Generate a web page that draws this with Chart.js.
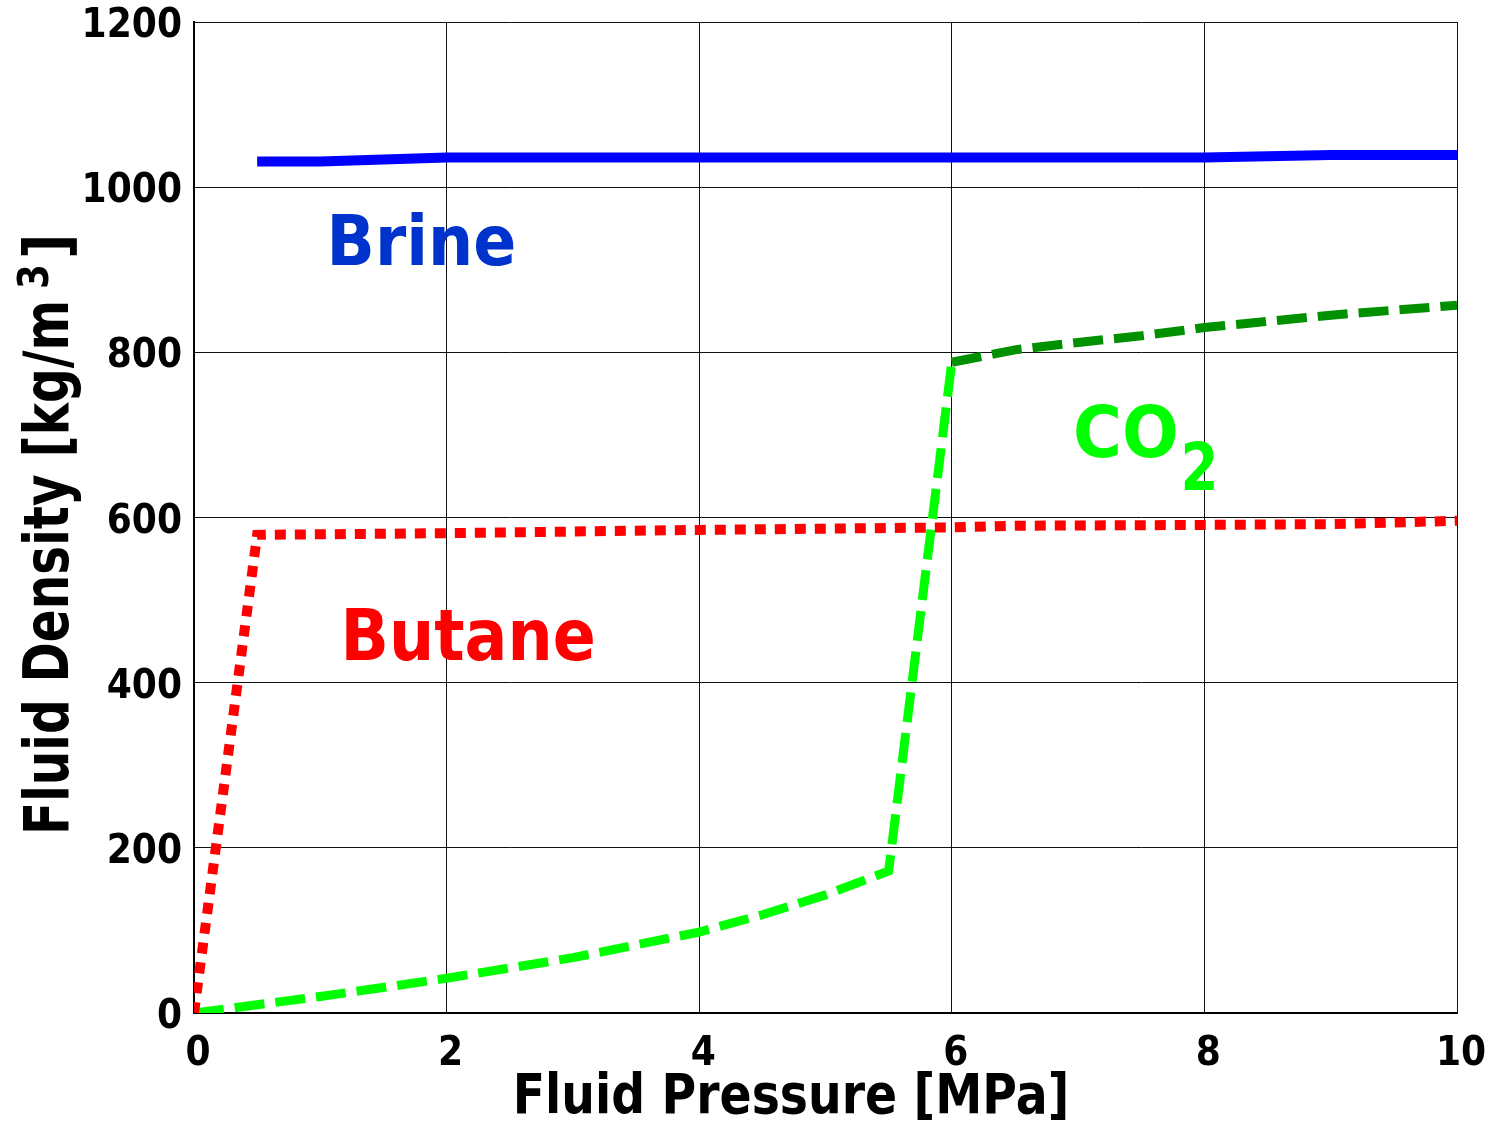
<!DOCTYPE html>
<html>
<head>
<meta charset="utf-8">
<script src="https://cdn.jsdelivr.net/npm/chart.js@4.4.1/dist/chart.umd.min.js"></script>
<style>
  html, body { margin: 0; padding: 0; background: #fff; }
  #wrap { width: 1497px; height: 1124px; }
</style>
</head>
<body>
<div id="wrap"><canvas id="densityChart" width="1497" height="1124"></canvas></div>
<script>
// Fluid density [kg/m3] against fluid pressure [MPa]
const brinePressure = [0.5, 1, 2, 4, 6, 8, 9, 10];
const brineDensity  = [1031, 1031, 1036, 1036, 1036, 1036, 1039, 1039];

const butanePressure = [0, 0.5, 2, 4, 6, 6.5, 8, 9, 10];
const butaneDensity  = [0, 579, 581, 585, 588, 590, 591, 592, 596];

// CO2 gas branch up to the phase change, then the liquid branch
const co2GasPressure = [0, 1, 2, 3, 4, 4.5, 5, 5.5, 6];
const co2GasDensity  = [0, 20, 42, 67, 98, 119, 143, 172, 788];

const co2LiqPressure = [6, 6.5, 7, 7.5, 8, 9, 10];
const co2LiqDensity  = [788, 803, 812, 820, 830, 845, 857];

const xTicks = [0, 2, 4, 6, 8, 10];
const yTicks = [0, 200, 400, 600, 800, 1000, 1200];

const FONT = "'DejaVu Sans', Verdana, sans-serif";
const SQUEEZE = 0.88;

const toPoints = (xs, ys) => xs.map((x, i) => ({ x, y: ys[i] }));

// bold text squeezed horizontally
function squeezedText(ctx, text, x, y, size, color, align, sx) {
  ctx.save();
  ctx.font = `bold ${size}px ${FONT}`;
  ctx.fillStyle = color;
  ctx.textBaseline = "alphabetic";
  ctx.textAlign = "left";
  const w = ctx.measureText(text).width * sx;
  let left = x;
  if (align === "center") left = x - w / 2;
  else if (align === "right") left = x - w;
  ctx.translate(left, y);
  ctx.scale(sx, 1);
  ctx.fillText(text, 0, 0);
  ctx.restore();
  return w;
}

// tick labels, axis titles and curve names
const textPlugin = {
  id: "plotText",
  afterDraw(chart) {
    const { ctx, scales: { x, y }, chartArea } = chart;

    yTicks.forEach(v => {
      squeezedText(ctx, String(v), chartArea.left - 12, y.getPixelForValue(v) + 15, 41, "#000", "right", SQUEEZE);
    });
    xTicks.forEach(v => {
      squeezedText(ctx, String(v), x.getPixelForValue(v) + 4, chartArea.bottom + 52, 41, "#000", "center", SQUEEZE);
    });

    // x title
    squeezedText(ctx, "Fluid Pressure [MPa]", 791, 1113, 56, "#000", "center", 0.845);

    // y title, rotated, with a raised 3
    ctx.save();
    ctx.translate(68, 835);
    ctx.rotate(-Math.PI / 2);
    ctx.font = `bold 62px ${FONT}`;
    const main = "Fluid Density [kg/m";
    const sxY = 535 / ctx.measureText(main).width;
    squeezedText(ctx, main, 0, 0, 62, "#000", "left", sxY);
    squeezedText(ctx, "3", 546, -20, 42, "#000", "left", 0.85);
    squeezedText(ctx, "]", 576, 0, 62, "#000", "left", 0.9);
    ctx.restore();

    // curve names
    squeezedText(ctx, "Brine", x.getPixelForValue(1.05), y.getPixelForValue(906), 69, "#0033cc", "left", 0.92);
    squeezedText(ctx, "Butane", x.getPixelForValue(1.16), y.getPixelForValue(427), 71, "#ff0000", "left", 0.895);
    squeezedText(ctx, "CO", x.getPixelForValue(6.96), y.getPixelForValue(673), 71, "#00ff00", "left", 0.94);
    squeezedText(ctx, "2", x.getPixelForValue(7.81), y.getPixelForValue(633), 65, "#00ff00", "left", 0.84);
  }
};

const ctx = document.getElementById("densityChart").getContext("2d");

new Chart(ctx, {
  type: "line",
  data: {
    datasets: [
      {
        label: "Brine",
        data: toPoints(brinePressure, brineDensity),
        borderColor: "#0000ff",
        borderWidth: 10
      },
      {
        label: "Butane",
        data: toPoints(butanePressure, butaneDensity),
        borderColor: "#ff0000",
        borderWidth: 10,
        borderDash: [11, 9]
      },
      {
        label: "CO2 gas",
        data: toPoints(co2GasPressure, co2GasDensity),
        borderColor: "#00ff00",
        borderWidth: 9,
        borderDash: [30, 11]
      },
      {
        label: "CO2 liquid",
        data: toPoints(co2LiqPressure, co2LiqDensity),
        borderColor: "#009000",
        borderWidth: 9,
        borderDash: [30, 11]
      }
    ]
  },
  options: {
    responsive: false,
    animation: false,
    layout: { padding: { top: 22, right: 40, left: 0, bottom: 0 } },
    plugins: {
      legend: { display: false },
      tooltip: { enabled: false }
    },
    elements: {
      point: { radius: 0 },
      line: { tension: 0, borderCapStyle: "butt", borderJoinStyle: "miter", fill: false }
    },
    scales: {
      x: {
        type: "linear",
        min: 0,
        max: 10,
        afterBuildTicks: s => { s.ticks = xTicks.map(v => ({ value: v })); },
        afterFit: s => { s.height = 111; },
        grid: { color: "#111", lineWidth: 1, drawTicks: false },
        border: { color: "#000", width: 2 },
        ticks: { display: false }
      },
      y: {
        type: "linear",
        min: 0,
        max: 1200,
        afterBuildTicks: s => { s.ticks = yTicks.map(v => ({ value: v })); },
        afterFit: s => { s.width = 194; },
        grid: { color: "#111", lineWidth: 1, drawTicks: false },
        border: { color: "#000", width: 2 },
        ticks: { display: false }
      }
    }
  },
  plugins: [textPlugin]
});
</script>
</body>
</html>
